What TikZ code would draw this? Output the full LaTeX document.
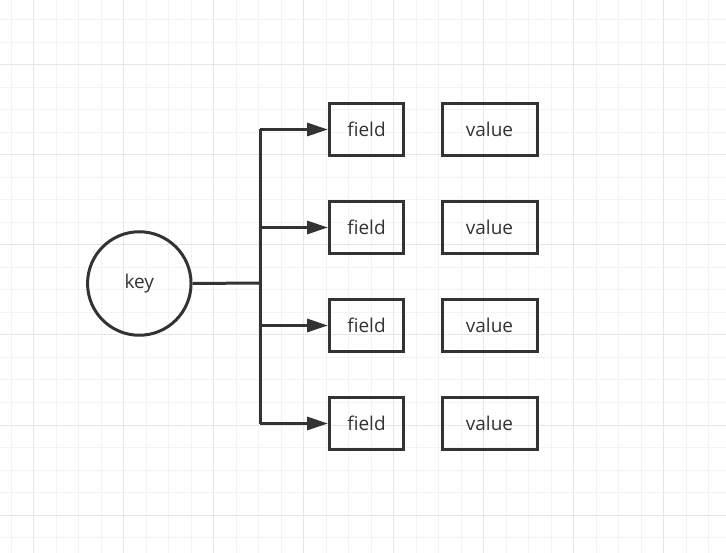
\documentclass[tikz,border=0pt]{standalone}
\usepackage{fontspec}
\setmainfont{Open Sans}
\usetikzlibrary{arrows.meta}
\definecolor{gridminor}{HTML}{F3F3F3}
\definecolor{gridmajor}{HTML}{E6E6E6}
\definecolor{inkgray}{HTML}{333333}

\tikzset{
  box/.style={draw=inkgray,line width=3pt,inner sep=0pt,minimum height=52pt,
    text=inkgray,font=\fontsize{19}{22}\selectfont},
  fieldbox/.style={box,minimum width=74pt},
  valuebox/.style={box,minimum width=95pt},
  keynode/.style={circle,draw=inkgray,line width=3pt,minimum size=103.5pt,inner sep=0pt,
    text=inkgray,font=\fontsize{19}{22}\selectfont},
  link/.style={draw=inkgray,line width=3pt},
}

\begin{document}
\begin{tikzpicture}[x=1pt,y=-1pt]
  \useasboundingbox (0,0) rectangle (726,553);
  % background grid
  \foreach \gx in {0,...,32}
    \draw[gridminor,line width=1pt] (11+22.5*\gx,0) -- (11+22.5*\gx,553);
  \foreach \gy in {0,...,25}
    \draw[gridminor,line width=1pt] (0,-2.5+22.5*\gy) -- (726,-2.5+22.5*\gy);
  \foreach \gx in {0,...,7}
    \draw[gridmajor,line width=1pt] (33.5+90*\gx,0) -- (33.5+90*\gx,553);
  \foreach \gy in {0,...,5}
    \draw[gridmajor,line width=1pt] (0,65+90*\gy) -- (726,65+90*\gy);

  % key and its hash entries
  \node[keynode] (key) at (139.3,283.5) {key};
  \coordinate (hub) at (260,283);
  \foreach \i/\ry in {1/129.5,2/227.5,3/325.5,4/423.5}{
    \node[fieldbox] (field\i) at (366.5,\ry) {field};
    \node[valuebox] (value\i) at (489.5,\ry) {value};
    \coordinate (fork\i) at (260,\ry);
  }

  % connectors
  \draw[link] (key.east) -- (hub);
  \draw[link] (fork1) -- (fork4);
  \foreach \i in {1,...,4}
    \draw[link,-{Triangle[length=21pt,width=13pt]}] (fork\i) -- (field\i.west);
\end{tikzpicture}
\end{document}
